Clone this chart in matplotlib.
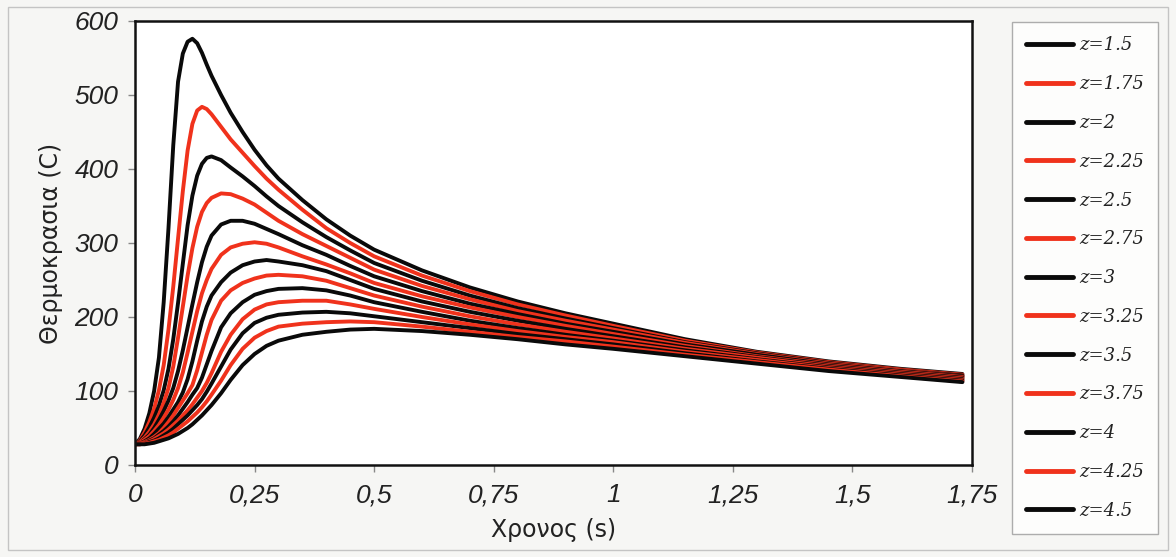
import matplotlib

matplotlib.use("Agg")
import matplotlib.pyplot as plt
from matplotlib.patches import Rectangle

# time axis (s)
time_s = [0, 0.01, 0.02, 0.03, 0.04, 0.05, 0.06, 0.07, 0.08, 0.09, 0.10, 0.11, 0.12,
          0.13, 0.14, 0.15, 0.16, 0.18, 0.20, 0.225, 0.25, 0.275, 0.30, 0.35, 0.40,
          0.45, 0.50, 0.60, 0.70, 0.80, 0.90, 1.00, 1.15, 1.30, 1.45, 1.60, 1.73]

# temperature (C) for each depth z
temp_z1_5 = [28, 35, 49, 70, 100, 145, 220, 320, 432, 518, 556, 572, 576,
             570, 557, 541, 526, 500, 476, 450, 426, 405, 387, 358, 332,
             310, 291, 263, 240, 221, 205, 191, 170, 153, 140, 130, 123]
temp_z1_75 = [28, 33, 44, 58, 76, 101, 135, 183, 241, 306, 370, 425, 461,
              479, 484, 481, 474, 457, 440, 422, 404, 387, 372, 345, 320,
              300, 282, 256, 235, 217, 202, 188, 168, 152, 139, 129, 122]
temp_z2 = [28, 32, 40, 51, 64, 80, 101, 130, 170, 219, 272, 324, 364,
           391, 407, 415, 417, 412, 402, 390, 377, 363, 350, 328, 308,
           290, 273, 249, 229, 212, 198, 185, 166, 151, 138, 128, 121]
temp_z2_25 = [28, 31, 37, 45, 55, 68, 84, 104, 133, 172, 214, 256, 293,
              322, 342, 354, 361, 367, 366, 360, 352, 341, 330, 312, 296,
              280, 264, 242, 224, 208, 195, 183, 165, 150, 137, 128, 120]
temp_z2_5 = [28, 30, 35, 41, 50, 61, 73, 87, 104, 127, 155, 186, 217,
             247, 274, 295, 310, 325, 330, 330, 326, 319, 312, 297, 284,
             269, 255, 235, 218, 204, 191, 180, 163, 149, 136, 127, 120]
temp_z2_75 = [28, 30, 34, 39, 46, 54, 64, 75, 88, 104, 125, 152, 180,
              208, 232, 250, 265, 284, 294, 299, 301, 299, 294, 282, 271,
              259, 246, 228, 213, 200, 188, 177, 161, 147, 135, 126, 119]
temp_z3 = [28, 29, 32, 36, 42, 49, 56, 65, 75, 85, 98, 116, 140,
           168, 194, 214, 229, 247, 260, 270, 275, 277, 275, 270, 262,
           250, 238, 221, 207, 195, 184, 174, 159, 146, 134, 125, 118]
temp_z3_25 = [28, 29, 31, 34, 38, 43, 50, 58, 67, 77, 87, 97, 108,
              128, 152, 176, 196, 222, 236, 246, 252, 256, 257, 255, 249,
              239, 229, 214, 201, 190, 180, 171, 157, 145, 133, 124, 117]
temp_z3_5 = [28, 29, 30, 33, 36, 41, 46, 52, 59, 67, 76, 85, 95,
             104, 118, 136, 154, 186, 205, 220, 230, 235, 238, 239, 236,
             229, 220, 207, 195, 185, 176, 168, 155, 143, 132, 123, 116]
temp_z3_75 = [28, 29, 30, 32, 35, 39, 43, 48, 54, 60, 67, 74, 82,
              91, 100, 111, 124, 153, 176, 197, 210, 217, 220, 222, 222,
              217, 211, 200, 190, 181, 173, 166, 153, 142, 131, 122, 115]
temp_z4 = [28, 28, 29, 31, 33, 36, 40, 44, 49, 55, 61, 67, 74,
           81, 89, 99, 110, 133, 156, 178, 192, 199, 203, 206, 207,
           205, 201, 193, 185, 177, 170, 163, 151, 140, 130, 121, 114]
temp_z4_25 = [28, 28, 29, 30, 32, 34, 37, 40, 44, 49, 54, 59, 65,
              71, 78, 86, 95, 114, 135, 157, 172, 181, 187, 191, 193,
              194, 193, 187, 180, 173, 167, 160, 149, 139, 129, 120, 113]
temp_z4_5 = [28, 28, 28, 29, 30, 32, 34, 36, 39, 42, 46, 50, 55,
             61, 67, 74, 81, 97, 115, 135, 150, 161, 168, 176, 180,
             183, 184, 181, 176, 170, 163, 157, 147, 137, 127, 119, 112]

depth_labels = ["z=1.5", "z=1.75", "z=2", "z=2.25", "z=2.5", "z=2.75", "z=3",
                "z=3.25", "z=3.5", "z=3.75", "z=4", "z=4.25", "z=4.5"]

x_ticks = [0, 0.25, 0.5, 0.75, 1.0, 1.25, 1.5, 1.75]
x_tick_labels = ["0", "0,25", "0,5", "0,75", "1", "1,25", "1,5", "1,75"]
y_ticks = [0, 100, 200, 300, 400, 500, 600]

series = [temp_z1_5, temp_z1_75, temp_z2, temp_z2_25, temp_z2_5, temp_z2_75, temp_z3,
          temp_z3_25, temp_z3_5, temp_z3_75, temp_z4, temp_z4_25, temp_z4_5]

BLACK = "#0a0a0a"
RED = "#f0321c"

fig = plt.figure(figsize=(11.76, 5.57), dpi=100, facecolor="#f6f6f4")
fig.patches.append(Rectangle((8 / 1176, 1 - 550 / 557), 1160 / 1176, 543 / 557,
                             transform=fig.transFigure, fill=False,
                             edgecolor="#c4c4c4", linewidth=1.0))
ax = fig.add_axes([135 / 1176, 1 - 465 / 557, 837 / 1176, 444 / 557])
ax.set_facecolor("white")

for i, (values, label) in enumerate(zip(series, depth_labels)):
    color = BLACK if i % 2 == 0 else RED
    ax.plot(time_s, values, color=color, linewidth=2.8, label=label,
            solid_capstyle="round", solid_joinstyle="round")

ax.set_xlim(0, 1.75)
ax.set_ylim(0, 600)
ax.set_xticks(x_ticks)
ax.set_xticklabels(x_tick_labels)
ax.set_yticks(y_ticks)

for lab in ax.get_xticklabels() + ax.get_yticklabels():
    lab.set_fontfamily("Liberation Sans")
    lab.set_fontstyle("italic")
    lab.set_fontsize(19)
    lab.set_color("#222222")
ax.tick_params(axis="x", length=5, width=1, color="#888888", pad=8)
ax.tick_params(axis="y", length=5, width=1, color="#888888", pad=7)
for spine in ax.spines.values():
    spine.set_linewidth(1.8)
    spine.set_color("#111111")

ax.set_xlabel("Χρονος (s)", fontsize=17, family="DejaVu Sans", color="#222222", labelpad=8)
ax.set_ylabel("Θερμοκρασια (C)", fontsize=17, family="DejaVu Sans", color="#222222", labelpad=8)

leg = ax.legend(loc="upper left", bbox_to_anchor=(1012 / 1176, 1 - 22 / 557),
                bbox_transform=fig.transFigure, frameon=True, fancybox=False,
                handlelength=2.6, handletextpad=0.3, labelspacing=1.15,
                borderpad=0.8, borderaxespad=0,
                prop={"family": "DejaVu Serif", "style": "italic", "size": 13})
leg.get_frame().set_edgecolor("#9a9a9a")
leg.get_frame().set_linewidth(1.0)
for line in leg.get_lines():
    line.set_linewidth(3.5)
for text in leg.get_texts():
    text.set_color("#222222")

fig.savefig("out.png", dpi=100, facecolor=fig.get_facecolor())
